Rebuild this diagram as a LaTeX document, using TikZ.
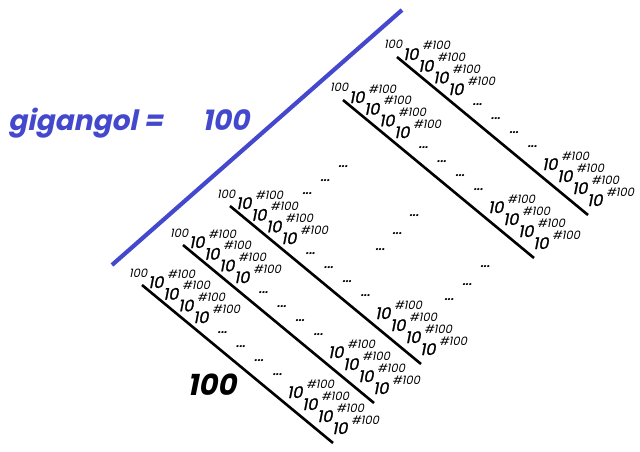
\documentclass[tikz,border=0pt]{standalone}
\usepackage{fontspec}
\setmainfont{Poppins}[FakeSlant=0.2]
\newfontfamily\tenfont{Poppins}[FakeSlant=0.2, FakeBold=1.2]
\usepackage{tikz}
\usetikzlibrary{calc}
\definecolor{gblue}{RGB}{68,72,204}

\begin{document}
\begin{tikzpicture}[x=1pt, y=-1pt,
	every node/.style={inner sep=0pt, anchor=base west},
	colline/.style={line width=2.6pt},
	blueline/.style={gblue, line width=4.2pt},
	title/.style={text=gblue, font=\fontsize{28}{28}\selectfont\bfseries},
	ten/.style={font=\fontsize{16}{16}\selectfont\tenfont},
	expo/.style={font=\fontsize{11.5}{11.5}\selectfont},
	dots/.style={anchor=center, font=\fontsize{11}{11}\selectfont\bfseries}]
	\useasboundingbox (0,0) rectangle (640,452);
	\coordinate (bl-a) at (112,265);
	\coordinate (bl-b) at (402,10);
	\draw[blueline] (bl-a) -- (bl-b);
	\node[title] (name) at (8,130) {gigangol =};
	\node[title] (value) at (202,130) {100};
	\node[title, text=black, font=\fontsize{29}{29}\selectfont\bfseries] (count) at (187,395) {100};
	\foreach \n/\x/\y in {a/142/285, b/183/245, c/230/206, d/343/100, e/397/57} {
	\coordinate (\n-s) at (\x,\y);
	\coordinate (\n-e) at (\x+191,\y+158);
	\draw[colline] (\n-s) -- (\n-e);
	\node[expo] (\n-base) at (\x-13,\y-8) {100};
	\foreach \k in {1,...,4} {
	\node[ten] (\n-u\k) at (\x-9+15*\k,\y-8.7+11.7*\k) {10};
	\node[expo] (\n-ux\k) at ($(\n-u\k.base east)+(3.5,-10)$) {\#100};
	\node[dots] (\n-d\k) at (\x+62+18.3*\k,\y+34+14*\k) {...};
	\node[ten] (\n-l\k) at (\x+130+15*\k,\y+101+12*\k) {10};
	\node[expo] (\n-lx\k) at ($(\n-l\k.base east)+(3.5,-10)$) {\#100};
	}
	}
	\foreach \p/\x/\y in {t1/307/194, t2/325/181, t3/343/167, m1/380/250, m2/397/234, m3/414/216, b1/449/300, b2/467/285, b3/485/267}
	\node[dots] (gap-\p) at (\x,\y) {...};
\end{tikzpicture}
\end{document}
